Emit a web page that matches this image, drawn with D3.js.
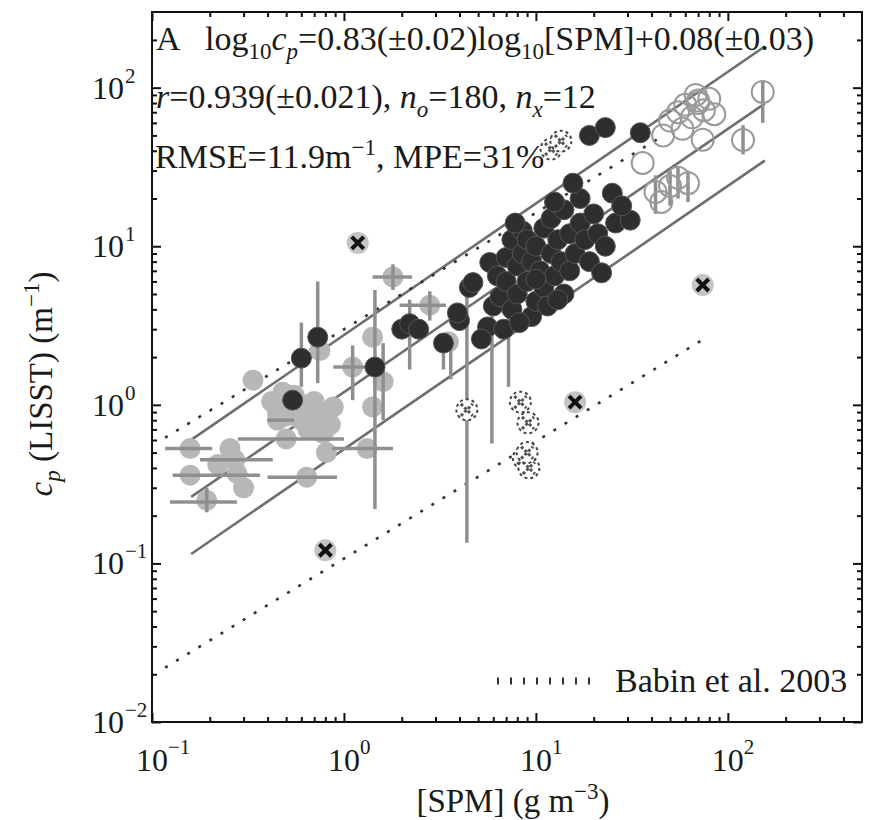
<!DOCTYPE html>
<html>
<head>
<meta charset="utf-8">
<script src="https://cdn.jsdelivr.net/npm/d3@7"></script>
<style>
  body { margin: 0; background: #fff; }
  text { font-family: "Liberation Serif", "Times New Roman", serif; fill: #1a1a1a; }
</style>
</head>
<body>
<div id="chart"></div>
<script>
// [SPM] (g m-3), cp (m-1)
const darkPoints = [[0.54,1.07],[0.60,1.97],[0.73,2.67],[1.45,1.73],[2.0,3.0],[2.2,3.25],[2.45,3.0],[3.3,2.45],
  [4.0,3.4],[3.9,3.8],[4.5,5.5],[4.7,5.9],[5.75,7.9],[5.6,3.1],[6.0,4.2],[6.5,4.8],[6.3,6.5],[7.0,6.0],[7.0,8.5],
  [7.5,4.0],[7.5,11],[8.0,5.0],[8.0,7.5],[8.5,9.0],[8.5,12.5],[9.0,6.0],[9.0,11],[9.5,8.0],[9.5,3.6],[10,4.5],
  [10,10],[10.5,7.0],[11,13],[11,5.5],[12,9],[12,15],[12.5,6.5],[13,11],[13.5,8],[14,17],[14,5],[15,12],[15,7],
  [16,9],[17,14],[17,20],[18,11],[19,8],[20,16],[21,12],[22,6.8],[23,10],[25,21.6],[26,14],[31,14.6],[28,18],
  [15.6,25],[19,50],[23,56],[35,52],[6.8,3.0],[8.2,3.3],[5.2,2.6],[11.5,4.2],[12.5,19],[7.8,14],[10,6.2],[13,4.6]];

const lightPoints = [[0.158,0.53],[0.255,0.53],[0.158,0.36],[0.277,0.37],[0.64,0.35],[1.32,0.53],[1.41,0.97],
  [1.41,2.67],[1.11,1.73],[0.88,0.97],[0.78,0.66],[0.81,0.50],[0.193,0.25],[0.336,1.43],[1.80,6.4],[2.8,4.25],
  [0.42,1.05],[0.48,1.2],[0.55,1.15],[0.62,1.0],[0.7,1.05],[0.5,0.85],[0.6,0.8],[0.75,0.85],[0.45,0.9],
  [0.85,0.75],[0.65,0.7],[0.27,0.45],[0.5,0.61],[0.45,0.8],[1.6,1.4],[3.5,2.5],[0.75,2.2],[0.3,0.3],[0.22,0.42]];

const openPoints = [[152,94],[120,46.8],[36,33.5],[55,70],[60,78],[65,65],[70,80],[75,72],[80,85],[68,90],
  [85,68],[50,62],[42,22],[50,24],[55,27],[62,25],[45,19],[74,47],[70,83],[58,55],[46,50]];

const darkOutliers = [[1.18,10.5],[0.80,0.121],[74,5.7],[16,1.04]];
const lightOutliers = [[4.37,0.93],[8.3,1.04],[9.1,0.77],[8.6,0.46],[9.2,0.40],[9.0,0.50],[12.0,41],[13.5,46]];

// [cp, spmLow, spmHigh]
const hBars = [[0.53,0.117,0.206],[0.45,0.178,0.426],[0.36,0.128,0.365],[0.35,0.40,0.92],[0.244,0.124,0.277],
  [0.53,0.87,1.8],[0.61,0.28,1.0],[6.4,1.41,2.26],[4.25,1.95,3.4],[1.73,0.88,1.53],[0.8,0.40,0.55]];
// [spm, cpLow, cpHigh]
const vBars = [[1.45,0.22,5.3],[1.6,0.80,2.45],[0.73,1.37,6.0],[0.60,1.3,3.3],[1.11,1.07,2.37],[2.2,1.67,4.6],
  [3.3,1.67,2.4],[3.6,1.45,2.4],[4.37,0.135,5.0],[5.9,0.57,4.5],[7.2,1.3,3.5],[8.8,0.36,0.52],[152,60,110],
  [120,38,58],[42,16,28],[50,18,30],[55,20,32],[62,19,30],[0.193,0.21,0.30],[1.80,5.3,7.7],[2.8,3.4,5.2]];

// regression log10 cp = 0.83 log10 SPM + 0.08, bounds +-0.36
const fitSlope = 0.83, fitIntercept = 0.08, fitBand = 0.36;
const fitRange = [0.16, 156];
// Babin et al. 2003 (dotted)
const babinSPM = [0.117, 75];
const babinCp = [0.022, 2.6];
const babinUpperSPM = [0.117, 45];
const babinUpperCp = [0.62, 49];

const xMajors = [0.1, 1, 10, 100];
const yMajors = [0.01, 0.1, 1, 10, 100];
const xExp = ["\u22121", "0", "1", "2"];
const yExp = ["\u22122", "\u22121", "0", "1", "2"];

const width = 869, height = 820;
const svg = d3.select("#chart").append("svg")
    .attr("width", width)
    .attr("height", height);

const x = d3.scaleLog().domain([0.1, 500]).range([152, 862]);
const y = d3.scaleLog().domain([0.01, 300]).range([722, 12]);

function minors(dom) {
    const out = [];
    for (let e = Math.floor(Math.log10(dom[0])); e <= Math.ceil(Math.log10(dom[1])); e++) {
        for (let k = 2; k <= 9; k++) {
            const v = k * Math.pow(10, e);
            if (v > dom[0] && v < dom[1]) out.push(v);
        }
    }
    return out;
}

const plot = svg.append("g");

// fit lines
const line = d3.line().x(d => x(d[0])).y(d => y(d[1]));
[-fitBand, 0, fitBand].forEach(off => {
    const pts = fitRange.map(s => [s, Math.pow(10, fitSlope * Math.log10(s) + fitIntercept + off)]);
    plot.append("path").attr("d", line(pts))
        .attr("fill", "none").attr("stroke", "#6e6e6e").attr("stroke-width", 2.6);
});

// babin lines
[[babinSPM, babinCp], [babinUpperSPM, babinUpperCp]].forEach(([s, c]) => {
    plot.append("path").attr("d", line(s.map((v, i) => [v, c[i]])))
        .attr("fill", "none").attr("stroke", "#333").attr("stroke-width", 2.6)
        .attr("stroke-dasharray", "3,10");
});

// light points and error bars
plot.selectAll(".light").data(lightPoints).join("circle")
    .attr("class", "light")
    .attr("cx", d => x(d[0])).attr("cy", d => y(d[1])).attr("r", 10.5)
    .attr("fill", "#b7b7b7");

plot.selectAll(".hbar").data(hBars).join("line")
    .attr("class", "hbar")
    .attr("x1", d => x(d[1])).attr("x2", d => x(d[2]))
    .attr("y1", d => y(d[0])).attr("y2", d => y(d[0]))
    .attr("stroke", "#8f8f8f").attr("stroke-width", 3.5);

plot.selectAll(".vbar").data(vBars).join("line")
    .attr("class", "vbar")
    .attr("x1", d => x(d[0])).attr("x2", d => x(d[0]))
    .attr("y1", d => y(d[1])).attr("y2", d => y(d[2]))
    .attr("stroke", "#8f8f8f").attr("stroke-width", 3.5);

// open circles
plot.selectAll(".open").data(openPoints).join("circle")
    .attr("class", "open")
    .attr("cx", d => x(d[0])).attr("cy", d => y(d[1])).attr("r", 11)
    .attr("fill", "none").attr("stroke", "#9a9a9a").attr("stroke-width", 2);

// dark points
plot.selectAll(".dark").data(darkPoints).join("circle")
    .attr("class", "dark")
    .attr("cx", d => x(d[0])).attr("cy", d => y(d[1])).attr("r", 10)
    .attr("fill", "#2e2e2e").attr("stroke", "#555").attr("stroke-width", 1);

// outliers
function cross(g, color, w, dash) {
    g.append("path").attr("d", "M-6,-6L6,6M-6,6L6,-6")
        .attr("stroke", color).attr("stroke-width", w)
        .attr("stroke-dasharray", dash);
}
plot.selectAll(".lout").data(lightOutliers).join("g")
    .attr("class", "lout")
    .attr("transform", d => `translate(${x(d[0])},${y(d[1])})`)
    .each(function() {
        const g = d3.select(this);
        g.append("circle").attr("r", 10.5).attr("fill", "#fff")
            .attr("stroke", "#444").attr("stroke-width", 2).attr("stroke-dasharray", "3,3");
        cross(g, "#555", 3, "3,2");
    });
plot.selectAll(".dout").data(darkOutliers).join("g")
    .attr("class", "dout")
    .attr("transform", d => `translate(${x(d[0])},${y(d[1])})`)
    .each(function() {
        const g = d3.select(this);
        g.append("circle").attr("r", 11).attr("fill", "#c4c4c4");
        cross(g, "#111", 4, null);
    });

// axes, ticks pointing inward on all four sides
const axes = svg.append("g").attr("class", "axes");
function addAxis(axisFn, scale, vals, size, transform) {
    axes.append("g").attr("transform", transform)
        .call(axisFn(scale).tickValues(vals).tickSizeInner(-size).tickSizeOuter(0).tickFormat(""))
        .call(g => g.select(".domain").remove())
        .call(g => g.selectAll("line").attr("stroke", "#111").attr("stroke-width", 2));
}
addAxis(d3.axisBottom, x, xMajors, 9, "translate(0,722)");
addAxis(d3.axisBottom, x, minors(x.domain()), 5, "translate(0,722)");
addAxis(d3.axisTop, x, xMajors, 9, "translate(0,12)");
addAxis(d3.axisTop, x, minors(x.domain()), 5, "translate(0,12)");
addAxis(d3.axisLeft, y, yMajors, 9, "translate(152,0)");
addAxis(d3.axisLeft, y, minors(y.domain()), 5, "translate(152,0)");
addAxis(d3.axisRight, y, yMajors, 9, "translate(862,0)");
addAxis(d3.axisRight, y, minors(y.domain()), 5, "translate(862,0)");

axes.append("rect").attr("x", 152).attr("y", 12).attr("width", 710).attr("height", 710)
    .attr("fill", "none").attr("stroke", "#111").attr("stroke-width", 2);

// tick labels
xMajors.forEach((v, i) => {
    axes.append("text").attr("x", x(v)).attr("y", 771).attr("text-anchor", "middle")
        .attr("font-size", 32).text("10");
    axes.append("text").attr("x", x(v) + 16).attr("y", 754).attr("font-size", 21).text(xExp[i]);
});
yMajors.forEach((v, i) => {
    axes.append("text").attr("x", 124).attr("y", y(v) + 11).attr("text-anchor", "end")
        .attr("font-size", 32).text("10");
    axes.append("text").attr("x", 125).attr("y", y(v) - 5).attr("font-size", 21).text(yExp[i]);
});

// axis titles
const xl = svg.append("text").attr("x", 513).attr("y", 812).attr("text-anchor", "middle").attr("font-size", 33);
xl.append("tspan").text("[SPM] (g m");
xl.append("tspan").attr("dy", -13).attr("font-size", 23).text("\u22123");
xl.append("tspan").attr("dy", 13).text(")");

const yl = svg.append("text").attr("transform", "translate(52,384) rotate(-90)")
    .attr("text-anchor", "middle").attr("font-size", 33);
yl.append("tspan").attr("font-style", "italic").text("c");
yl.append("tspan").attr("font-style", "italic").attr("dy", 8).attr("font-size", 23).text("p");
yl.append("tspan").attr("dy", -8).text(" (LISST) (m");
yl.append("tspan").attr("dy", -13).attr("font-size", 23).text("\u22121");
yl.append("tspan").attr("dy", 13).text(")");

// annotations
const note = svg.append("g").attr("font-size", 34);
note.append("text").attr("x", 156).attr("y", 50).attr("font-size", 34).text("A");
const l1 = note.append("text").attr("x", 205).attr("y", 50).attr("font-size", 34);
l1.append("tspan").text("log");
l1.append("tspan").attr("dy", 9).attr("font-size", 23).text("10");
l1.append("tspan").attr("dy", -9).attr("font-style", "italic").text("c");
l1.append("tspan").attr("dy", 9).attr("font-size", 23).attr("font-style", "italic").text("p");
l1.append("tspan").attr("dy", -9).text("=0.83(\u00b10.02)log");
l1.append("tspan").attr("dy", 9).attr("font-size", 23).text("10");
l1.append("tspan").attr("dy", -9).text("[SPM]+0.08(\u00b10.03)");

const l2 = note.append("text").attr("x", 156).attr("y", 108).attr("font-size", 34);
l2.append("tspan").attr("font-style", "italic").text("r");
l2.append("tspan").text("=0.939(\u00b10.021), ");
l2.append("tspan").attr("font-style", "italic").text("n");
l2.append("tspan").attr("dy", 9).attr("font-size", 23).attr("font-style", "italic").text("o");
l2.append("tspan").attr("dy", -9).text("=180, ");
l2.append("tspan").attr("font-style", "italic").text("n");
l2.append("tspan").attr("dy", 9).attr("font-size", 23).attr("font-style", "italic").text("x");
l2.append("tspan").attr("dy", -9).text("=12");

const l3 = note.append("text").attr("x", 155).attr("y", 168).attr("font-size", 34);
l3.append("tspan").text("RMSE=11.9m");
l3.append("tspan").attr("dy", -13).attr("font-size", 23).text("\u22121");
l3.append("tspan").attr("dy", 13).text(", MPE=31%");

// legend
svg.append("line").attr("x1", 497).attr("x2", 595).attr("y1", 681).attr("y2", 681)
    .attr("stroke", "#333").attr("stroke-width", 7).attr("stroke-dasharray", "2,11");
svg.append("text").attr("x", 615).attr("y", 692).attr("font-size", 34).text("Babin et al. 2003");
</script>
</body>
</html>
